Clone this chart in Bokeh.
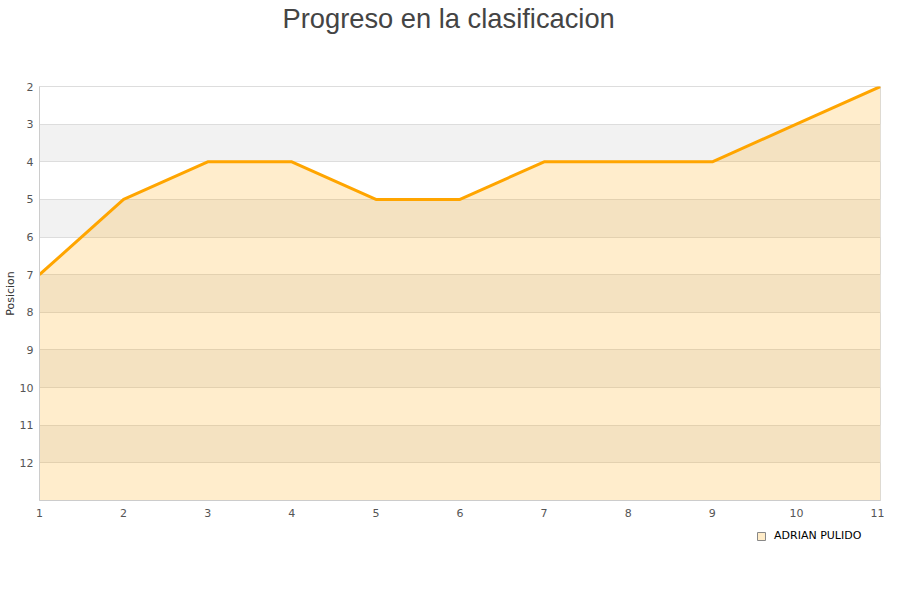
from bokeh.plotting import figure
from bokeh.layouts import column
from bokeh.models import Range1d, FixedTicker, Legend, LegendItem, ColumnDataSource, Title
from bokeh.embed import file_html
from bokeh.resources import INLINE

jornadas = [1, 2, 3, 4, 5, 6, 7, 8, 9, 10, 11]
posicion = [7, 5, 4, 4, 5, 5, 4, 4, 4, 3, 2]
y_ticks = [2, 3, 4, 5, 6, 7, 8, 9, 10, 11, 12]
serie = "ADRIAN PULIDO"
titulo = "Progreso en la clasificacion"
y_label = "Posicion"

p = figure(width=884, height=523, output_backend="svg", toolbar_location=None,
           x_range=Range1d(1, 11), y_range=Range1d(13, 2), title=None,
           min_border_left=32, min_border_right=4, min_border_top=86, min_border_bottom=23)

spacer = Title(text=" ", text_font_size="45px", standoff=0, offset=0)
p.add_layout(spacer, "above")
main_title = Title(text=titulo, align="left", text_font="Liberation Sans",
                   text_font_size="27.3px", text_font_style="normal",
                   text_color="#444444", standoff=0, offset=243, padding=0)
p.add_layout(main_title, "above")

p.outline_line_color = "#dddddd"
p.background_fill_color = "white"

p.xgrid.grid_line_color = None
p.ygrid.grid_line_color = "#dddddd"
p.ygrid.band_fill_color = "#f2f2f2"
p.ygrid.band_fill_alpha = 1.0

p.yaxis.ticker = FixedTicker(ticks=y_ticks)
p.xaxis.ticker = FixedTicker(ticks=jornadas)
for ax in (p.xaxis[0], p.yaxis[0]):
    ax.axis_line_color = "#cccccc"
    ax.major_tick_line_color = None
    ax.minor_tick_line_color = None
    ax.major_tick_out = 0
    ax.major_tick_in = 0
    ax.major_label_text_font = "DejaVu Sans"
    ax.major_label_text_font_size = "11px"
    ax.major_label_text_color = "#555555"
p.yaxis.axis_label = y_label
p.yaxis.axis_label_text_font = "DejaVu Sans"
p.yaxis.axis_label_text_font_size = "11px"
p.yaxis.axis_label_text_font_style = "normal"
p.yaxis.axis_label_text_color = "#333333"
p.yaxis.axis_label_standoff = 0
p.yaxis.major_label_standoff = 6
p.xaxis.major_label_standoff = 8

src = ColumnDataSource(dict(x=jornadas, y=posicion, base=[13] * len(jornadas)))
p.varea(x="x", y1="y", y2="base", source=src, fill_color="#ffa500", fill_alpha=0.2)
p.line(x="x", y="y", source=src, line_color="#ffa500", line_width=3)

# legend strip below the chart (renderer holds one NaN row so only its legend swatch shows)
nan = float("nan")
lg = figure(width=884, height=61, output_backend="svg", toolbar_location=None,
            x_range=Range1d(0, 1), y_range=Range1d(0, 1), x_axis_type=None, y_axis_type=None,
            min_border=0, outline_line_color=None)
lg.grid.visible = False
icon = lg.quad(left=[nan], right=[nan], top=[nan], bottom=[nan],
               fill_color="#ffecc8", line_color="#888888")
legend = Legend(items=[LegendItem(label=serie, renderers=[icon])], location=(717, 42),
                orientation="horizontal", border_line_color=None, background_fill_alpha=0,
                label_text_font="DejaVu Sans", label_text_font_size="11px",
                label_text_color="#000000",
                glyph_width=10, glyph_height=10, padding=0, margin=0, label_standoff=8)
lg.add_layout(legend, "center")

layout = column(p, lg, spacing=0)
open("out.html", "w").write(file_html(layout, INLINE))
